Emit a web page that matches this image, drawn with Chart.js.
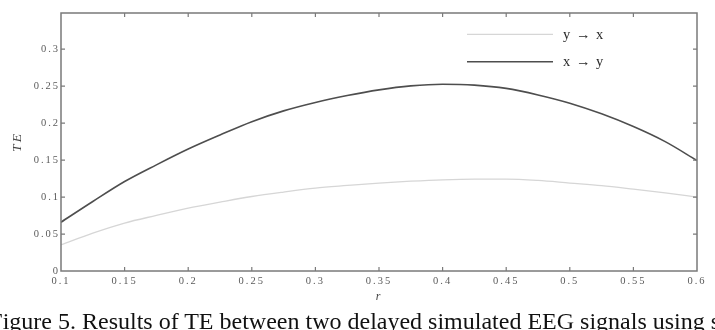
<!DOCTYPE html>
<html><head><meta charset="utf-8">
<script src="https://cdn.jsdelivr.net/npm/chart.js@4/dist/chart.umd.min.js"></script>
<style>
html,body{margin:0;padding:0;background:#fff;overflow:hidden;}
#wrap{position:relative;width:715px;height:330px;overflow:hidden;}
#c{position:absolute;left:0;top:0;}
#cap{position:absolute;left:-10.7px;top:308.5px;font:24px/24px "Liberation Serif",serif;color:#111;white-space:nowrap;}
</style></head><body>
<div id="wrap"><canvas id="c" width="715" height="330"></canvas>
<div id="cap">Figure 5. Results of TE between two delayed simulated EEG signals using s</div></div>
<script>
const rValues = [0.1,0.125,0.15,0.175,0.2,0.225,0.25,0.275,0.3,0.325,0.35,0.375,0.4,0.425,0.45,0.475,0.5,0.525,0.55,0.575,0.6];
const teYtoX = [0.0355,0.0513,0.0649,0.0752,0.0851,0.0932,0.1008,0.1068,0.1121,0.1157,0.119,0.1215,0.1234,0.1243,0.1243,0.1225,0.119,0.1155,0.1108,0.1058,0.1];
const teXtoY = [0.066,0.094,0.121,0.1436,0.165,0.184,0.202,0.2166,0.228,0.2373,0.245,0.2504,0.2527,0.2515,0.247,0.2382,0.227,0.2126,0.1954,0.175,0.1495];
const seriesLabels = ['y \u2192 x','x \u2192 y'];
const xAxisTitle = 'r';
const yAxisTitle = 'TE';

const fmt = v => String(+(+v).toFixed(2));

const framePlugin = {
  id: 'frame',
  beforeDraw(chart){ chart.ctx.letterSpacing = '2px'; },
  afterDatasetsDraw(chart){
    const {ctx, chartArea:a, scales:{x, y}} = chart;
    ctx.save();
    ctx.strokeStyle = '#7a7a7a';
    ctx.lineWidth = 1.5;
    ctx.strokeRect(a.left, a.top, a.right - a.left, a.bottom - a.top);
    ctx.lineWidth = 1.2;
    const L = 4;
    ctx.beginPath();
    x.ticks.forEach(t => {
      const px = x.getPixelForValue(t.value);
      if (px <= a.left + 1 || px >= a.right - 1) return;
      ctx.moveTo(px, a.bottom); ctx.lineTo(px, a.bottom - L);
      ctx.moveTo(px, a.top); ctx.lineTo(px, a.top + L);
    });
    y.ticks.forEach(t => {
      const py = y.getPixelForValue(t.value);
      if (py >= a.bottom - 1 || py <= a.top + 1) return;
      ctx.moveTo(a.left, py); ctx.lineTo(a.left + L, py);
      ctx.moveTo(a.right, py); ctx.lineTo(a.right - L, py);
    });
    ctx.stroke();
    // legend inside plot
    const rows = [34.3, 61.7];
    ctx.letterSpacing = '1px';
    chart.data.datasets.forEach((ds, i) => {
      const yy = rows[i];
      ctx.strokeStyle = ds.borderColor;
      ctx.lineWidth = ds.borderWidth;
      ctx.beginPath(); ctx.moveTo(467, yy); ctx.lineTo(553, yy); ctx.stroke();
      ctx.fillStyle = '#2a2a2a';
      ctx.font = '14.5px "Liberation Serif", serif';
      ctx.textBaseline = 'middle';
      ctx.textAlign = 'left';
      ctx.fillText(ds.label, 563, yy + 0.5);
    });
    ctx.restore();
  },
  afterDraw(chart){ chart.ctx.letterSpacing = '0px'; }
};

new Chart(document.getElementById('c'), {
  type: 'line',
  data: {
    labels: rValues,
    datasets: [
      { label: seriesLabels[0], data: rValues.map((r,i)=>({x:r, y:teYtoX[i]})), borderColor:'#d6d6d6', borderWidth:1.3, pointRadius:0, tension:0.4, cubicInterpolationMode:'monotone', fill:false },
      { label: seriesLabels[1], data: rValues.map((r,i)=>({x:r, y:teXtoY[i]})), borderColor:'#4e4e4e', borderWidth:1.6, pointRadius:0, tension:0.4, cubicInterpolationMode:'monotone', fill:false }
    ]
  },
  options: {
    responsive: false,
    animation: false,
    events: [],
    layout: { padding: { top: 13, right: 18, left: 0, bottom: 0 } },
    plugins: { legend: { display: false }, tooltip: { enabled: false } },
    scales: {
      x: {
        type: 'linear', min: 0.1, max: 0.6,
        border: { display: false },
        grid: { display: false, drawTicks: false },
        ticks: { stepSize: 0.05, padding: 4, color: '#5a5a5a', maxRotation: 0, autoSkip: false,
          font: { family: '"Liberation Serif", serif', size: 10.5 }, callback: v => fmt(v) },
        title: { display: true, text: xAxisTitle, color: '#444',
          font: { family: '"Liberation Serif", serif', size: 12, style: 'italic' }, padding: { top: 0, bottom: 25.8 } },
        afterFit: s => { s.height = 59; }
      },
      y: {
        type: 'linear', min: 0, max: 0.349,
        border: { display: false },
        grid: { display: false, drawTicks: false },
        ticks: { stepSize: 0.05, includeBounds: false, padding: 1, color: '#5a5a5a',
          font: { family: '"Liberation Serif", serif', size: 10.5 }, callback: v => fmt(v) },
        title: { display: true, text: yAxisTitle, color: '#444',
          font: { family: '"Liberation Serif", serif', size: 13.5, style: 'italic' }, padding: { top: 9.5, bottom: 0 } },
        afterFit: s => { s.width = 61; }
      }
    }
  },
  plugins: [framePlugin]
});
</script>
</body></html>
